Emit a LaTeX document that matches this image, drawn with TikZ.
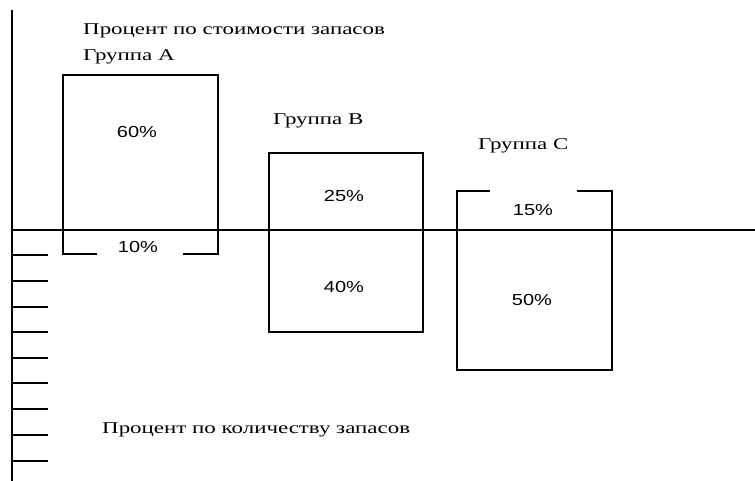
\documentclass[tikz,border=0pt]{standalone}
\usepackage{fontspec}
\setmainfont[FakeStretch=1.39]{Liberation Serif}
\newfontfamily\pctfont[FakeStretch=1.25]{Liberation Sans}
\begin{document}
\begin{tikzpicture}[x=1pt,y=-1pt,
  ln/.style={line width=1.3pt,black},
  lbl/.style={font=\fontsize{16.5}{20}\selectfont,inner sep=0pt,anchor=base west},
  pct/.style={font=\pctfont\fontsize{16}{19}\selectfont,inner sep=0pt,anchor=base}]
\useasboundingbox (0,0) rectangle (755,481);
% axes
\coordinate (vtop) at (12,10);
\coordinate (vbot) at (12,481);
\coordinate (hl) at (12,230);
\coordinate (hr) at (755,230);
\draw[ln] (vtop) -- (vbot);
\draw[ln] (hl) -- (hr);
% ticks
\foreach \ty in {255,281,307,332,358,383,409,435,461}
  \draw[ln] (12,\ty) -- (48,\ty);
% box A (bottom open in middle)
\draw[ln] (97,254) -- (63,254) -- (63,75) -- (218,75) -- (218,254) -- (183,254);
% box B
\draw[ln] (269,153) rectangle (423,332);
% box C (top open in middle)
\draw[ln] (490,191) -- (457,191) -- (457,370) -- (612,370) -- (612,191) -- (577,191);
% labels
\node[lbl] (t1) at (83,35) {Процент по стоимости запасов};
\node[lbl] (ga) at (83,61) {Группа А};
\node[lbl] (gb) at (273,125) {Группа В};
\node[lbl] (gc) at (478,150) {Группа С};
\node[lbl] (t2) at (102,433) {Процент по количеству запасов};
% percentages
\node[pct] (pa1) at (137,138) {60\%};
\node[pct] (pa2) at (138,252) {10\%};
\node[pct] (pb1) at (344,202) {25\%};
\node[pct] (pb2) at (344,292) {40\%};
\node[pct] (pc1) at (533,215) {15\%};
\node[pct] (pc2) at (532,305) {50\%};
\end{tikzpicture}
\end{document}
